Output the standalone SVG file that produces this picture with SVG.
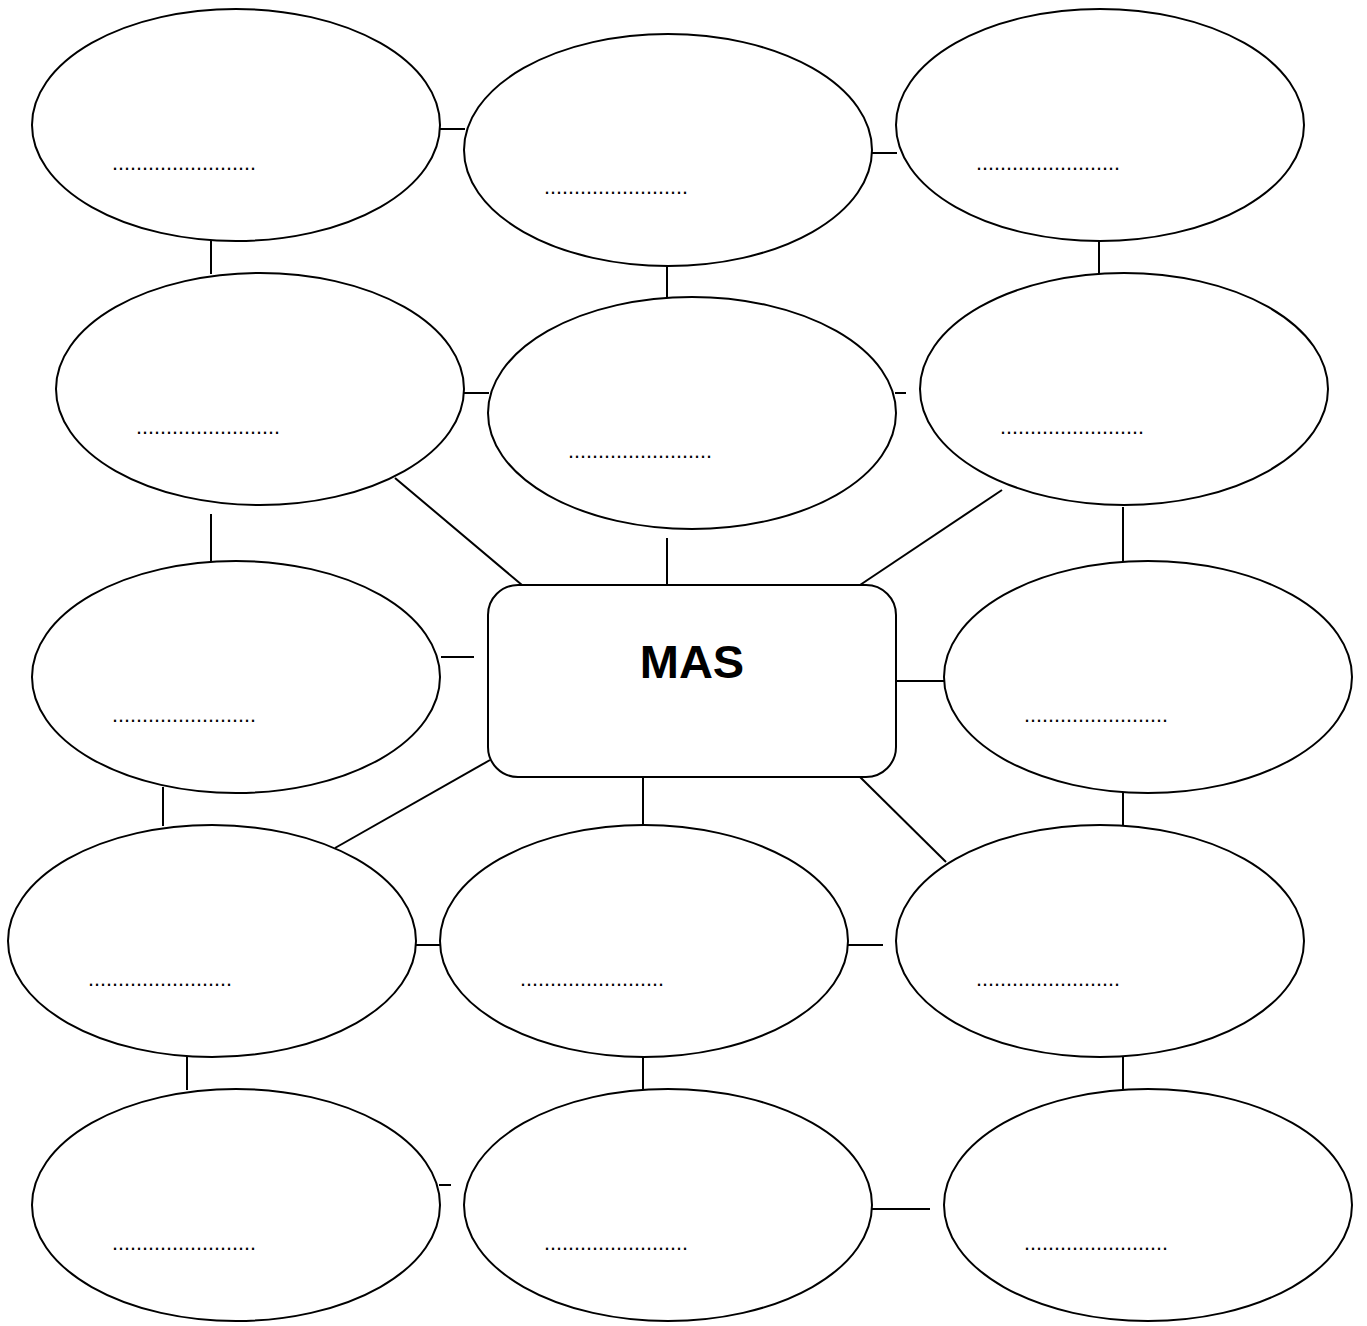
<svg xmlns="http://www.w3.org/2000/svg" width="1367" height="1326" viewBox="0 0 1367 1326">
<style>
.n{fill:#fff;stroke:#000;stroke-width:2}
.d{font-family:"Liberation Sans",Arial,sans-serif;font-size:21.6px;fill:#000}
.c line{stroke:#000;stroke-width:2}
.t{font-family:"Liberation Sans",Arial,sans-serif;font-size:47px;font-weight:bold;fill:#000;text-anchor:middle}
</style>
<rect width="1367" height="1326" fill="#fff"/>
<g class="c" id="connectors">
<line x1="440" y1="129" x2="465" y2="129"/>
<line x1="872" y1="153" x2="897" y2="153"/>
<line x1="211" y1="240" x2="211" y2="274"/>
<line x1="667" y1="265" x2="667" y2="298"/>
<line x1="1099" y1="240" x2="1099" y2="274"/>
<line x1="464" y1="393" x2="489" y2="393"/>
<line x1="895" y1="393" x2="906" y2="393"/>
<line x1="395" y1="478" x2="522" y2="585"/>
<line x1="667" y1="538" x2="667" y2="585"/>
<line x1="1002" y1="490" x2="860" y2="585"/>
<line x1="211" y1="514" x2="211" y2="562"/>
<line x1="1123" y1="507" x2="1123" y2="562"/>
<line x1="441" y1="657" x2="474" y2="657"/>
<line x1="896" y1="681" x2="945" y2="681"/>
<line x1="163" y1="787" x2="163" y2="826"/>
<line x1="490" y1="760" x2="335" y2="848"/>
<line x1="643" y1="777" x2="643" y2="826"/>
<line x1="860" y1="777" x2="946" y2="862"/>
<line x1="1123" y1="792" x2="1123" y2="826"/>
<line x1="415" y1="945" x2="441" y2="945"/>
<line x1="847" y1="945" x2="883" y2="945"/>
<line x1="187" y1="1056" x2="187" y2="1090"/>
<line x1="643" y1="1056" x2="643" y2="1090"/>
<line x1="1123" y1="1056" x2="1123" y2="1090"/>
<line x1="439" y1="1185" x2="451" y2="1185"/>
<line x1="872" y1="1209" x2="930" y2="1209"/>
</g>
<g id="n1"><ellipse class="n" cx="236" cy="125" rx="204" ry="116"/><text class="d" x="112" y="170">........................</text></g>
<g id="n2"><ellipse class="n" cx="668" cy="150" rx="204" ry="116"/><text class="d" x="544" y="194">........................</text></g>
<g id="n3"><ellipse class="n" cx="1100" cy="125" rx="204" ry="116"/><text class="d" x="976" y="170">........................</text></g>
<g id="n4"><ellipse class="n" cx="260" cy="389" rx="204" ry="116"/><text class="d" x="136" y="434">........................</text></g>
<g id="n5"><ellipse class="n" cx="692" cy="413" rx="204" ry="116"/><text class="d" x="568" y="458">........................</text></g>
<g id="n6"><ellipse class="n" cx="1124" cy="389" rx="204" ry="116"/><text class="d" x="1000" y="434">........................</text></g>
<g id="n7"><ellipse class="n" cx="236" cy="677" rx="204" ry="116"/><text class="d" x="112" y="722">........................</text></g>
<g id="center"><rect class="n" x="488" y="585" width="408" height="192" rx="30" ry="30"/><text class="t" x="692" y="678">MAS</text></g>
<g id="n8"><ellipse class="n" cx="1148" cy="677" rx="204" ry="116"/><text class="d" x="1024" y="722">........................</text></g>
<g id="n9"><ellipse class="n" cx="212" cy="941" rx="204" ry="116"/><text class="d" x="88" y="986">........................</text></g>
<g id="n10"><ellipse class="n" cx="644" cy="941" rx="204" ry="116"/><text class="d" x="520" y="986">........................</text></g>
<g id="n11"><ellipse class="n" cx="1100" cy="941" rx="204" ry="116"/><text class="d" x="976" y="986">........................</text></g>
<g id="n12"><ellipse class="n" cx="236" cy="1205" rx="204" ry="116"/><text class="d" x="112" y="1250">........................</text></g>
<g id="n13"><ellipse class="n" cx="668" cy="1205" rx="204" ry="116"/><text class="d" x="544" y="1250">........................</text></g>
<g id="n14"><ellipse class="n" cx="1148" cy="1205" rx="204" ry="116"/><text class="d" x="1024" y="1250">........................</text></g>
</svg>
